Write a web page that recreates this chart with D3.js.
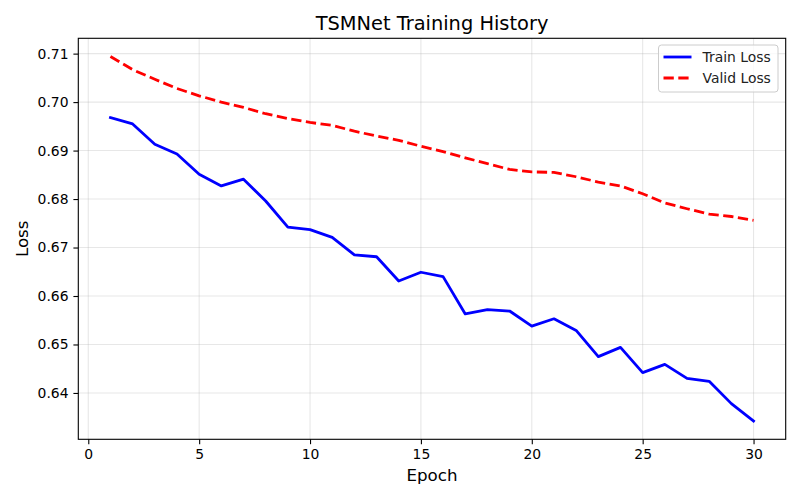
<!DOCTYPE html>
<html>
<head>
<meta charset="utf-8">
<script src="https://cdn.jsdelivr.net/npm/d3@7"></script>
<style>
  body { margin: 0; background: #fff; }
  svg { font-family: "DejaVu Sans", sans-serif; }
</style>
</head>
<body>
<svg id="chart" width="800" height="500"></svg>
<script>
// epochs and losses
const epochs = d3.range(1, 31);
const trainLoss = [0.6968, 0.6955, 0.6913, 0.6893, 0.6851, 0.6827, 0.6841, 0.6796, 0.6742, 0.6737,
                   0.6721, 0.6685, 0.6681, 0.6631, 0.6649, 0.6640, 0.6563, 0.6572, 0.6569, 0.6538,
                   0.6553, 0.6529, 0.6475, 0.6494, 0.6442, 0.6459, 0.6430, 0.6424, 0.6378, 0.6342];
const validLoss = [0.7094, 0.7067, 0.7047, 0.7028, 0.7013, 0.7000, 0.6989, 0.6976, 0.6966, 0.6958,
                   0.6952, 0.6940, 0.6930, 0.6921, 0.6909, 0.6898, 0.6885, 0.6873, 0.6861, 0.6856,
                   0.6855, 0.6846, 0.6835, 0.6827, 0.6811, 0.6792, 0.6780, 0.6769, 0.6764, 0.6756];
const xTicks = [0, 5, 10, 15, 20, 25, 30];
const yTicks = [0.64, 0.65, 0.66, 0.67, 0.68, 0.69, 0.70, 0.71];

const svg = d3.select("#chart");
const margin = {left: 78.3, right: 14.3, top: 38.3, bottom: 60.7};
const W = 800, H = 500;

// matplotlib-style 5% padding
function padded(lo, hi) {
    const p = (hi - lo) * 0.05;
    return [lo - p, hi + p];
}
const allY = trainLoss.concat(validLoss);
const x = d3.scaleLinear()
    .domain(padded(d3.min(epochs), d3.max(epochs)))
    .range([margin.left, W - margin.right]);
const y = d3.scaleLinear()
    .domain(padded(d3.min(allY), d3.max(allY)))
    .range([H - margin.bottom, margin.top]);

// grid
svg.append("g").selectAll("line").data(xTicks).join("line")
    .attr("x1", d => x(d)).attr("x2", d => x(d))
    .attr("y1", margin.top).attr("y2", H - margin.bottom)
    .attr("stroke", "#b0b0b0").attr("stroke-opacity", 0.3).attr("stroke-width", 1.1);
svg.append("g").selectAll("line").data(yTicks).join("line")
    .attr("y1", d => y(d)).attr("y2", d => y(d))
    .attr("x1", margin.left).attr("x2", W - margin.right)
    .attr("stroke", "#b0b0b0").attr("stroke-opacity", 0.3).attr("stroke-width", 1.1);

// lines
const line = d3.line().x((d, i) => x(epochs[i])).y(d => y(d));
svg.append("path").datum(trainLoss)
    .attr("d", line).attr("fill", "none")
    .attr("stroke", "#0000ff").attr("stroke-width", 2.8)
    .attr("stroke-linejoin", "round").attr("stroke-linecap", "square");
svg.append("path").datum(validLoss)
    .attr("d", line).attr("fill", "none")
    .attr("stroke", "#ff0000").attr("stroke-width", 2.8)
    .attr("stroke-dasharray", "10.3,4.5");

// axes
const xAxis = d3.axisBottom(x).tickValues(xTicks).tickSize(4.9).tickPadding(4.9).tickFormat(d3.format("d"));
const yAxis = d3.axisLeft(y).tickValues(yTicks).tickSize(4.9).tickPadding(4.9).tickFormat(d3.format(".2f"));
const gx = svg.append("g").attr("transform", `translate(0,${H - margin.bottom})`).call(xAxis);
const gy = svg.append("g").attr("transform", `translate(${margin.left},0)`).call(yAxis);
[gx, gy].forEach(g => {
    g.select(".domain").remove();
    g.selectAll(".tick line").attr("stroke", "#000").attr("stroke-width", 1.1);
    g.selectAll(".tick text").attr("fill", "#000").style("font-size", "13.9px").style("font-family", "DejaVu Sans");
});

// frame
svg.append("rect")
    .attr("x", margin.left).attr("y", margin.top)
    .attr("width", W - margin.left - margin.right)
    .attr("height", H - margin.top - margin.bottom)
    .attr("fill", "none").attr("stroke", "#000").attr("stroke-width", 1.1);

// labels
svg.append("text").attr("x", (margin.left + W - margin.right) / 2).attr("y", 30)
    .attr("text-anchor", "middle").style("font-size", "19.4px").text("TSMNet Training History");
svg.append("text").attr("x", (margin.left + W - margin.right) / 2).attr("y", 481)
    .attr("text-anchor", "middle").style("font-size", "16.7px").text("Epoch");
svg.append("text")
    .attr("transform", `translate(28,${(margin.top + H - margin.bottom) / 2}) rotate(-90)`)
    .attr("text-anchor", "middle").style("font-size", "16.7px").text("Loss");

// legend
const lg = svg.append("g").attr("transform", "translate(658.5,45)");
lg.append("rect").attr("width", 119.5).attr("height", 47).attr("rx", 3)
    .attr("fill", "#fff").attr("fill-opacity", 0.8)
    .attr("stroke", "#cccccc").attr("stroke-width", 1);
const items = [
    {name: "Train Loss", color: "#0000ff", dash: null},
    {name: "Valid Loss", color: "#ff0000", dash: "10.3,4.5"}
];
items.forEach((it, i) => {
    const yy = 12 + i * 21;
    lg.append("line").attr("x1", 5).attr("x2", 33).attr("y1", yy).attr("y2", yy)
        .attr("stroke", it.color).attr("stroke-width", 2.8)
        .attr("stroke-dasharray", it.dash);
    lg.append("text").attr("x", 44).attr("y", yy + 5)
        .style("font-size", "13.9px").attr("fill", "#222").text(it.name);
});
</script>
</body>
</html>
